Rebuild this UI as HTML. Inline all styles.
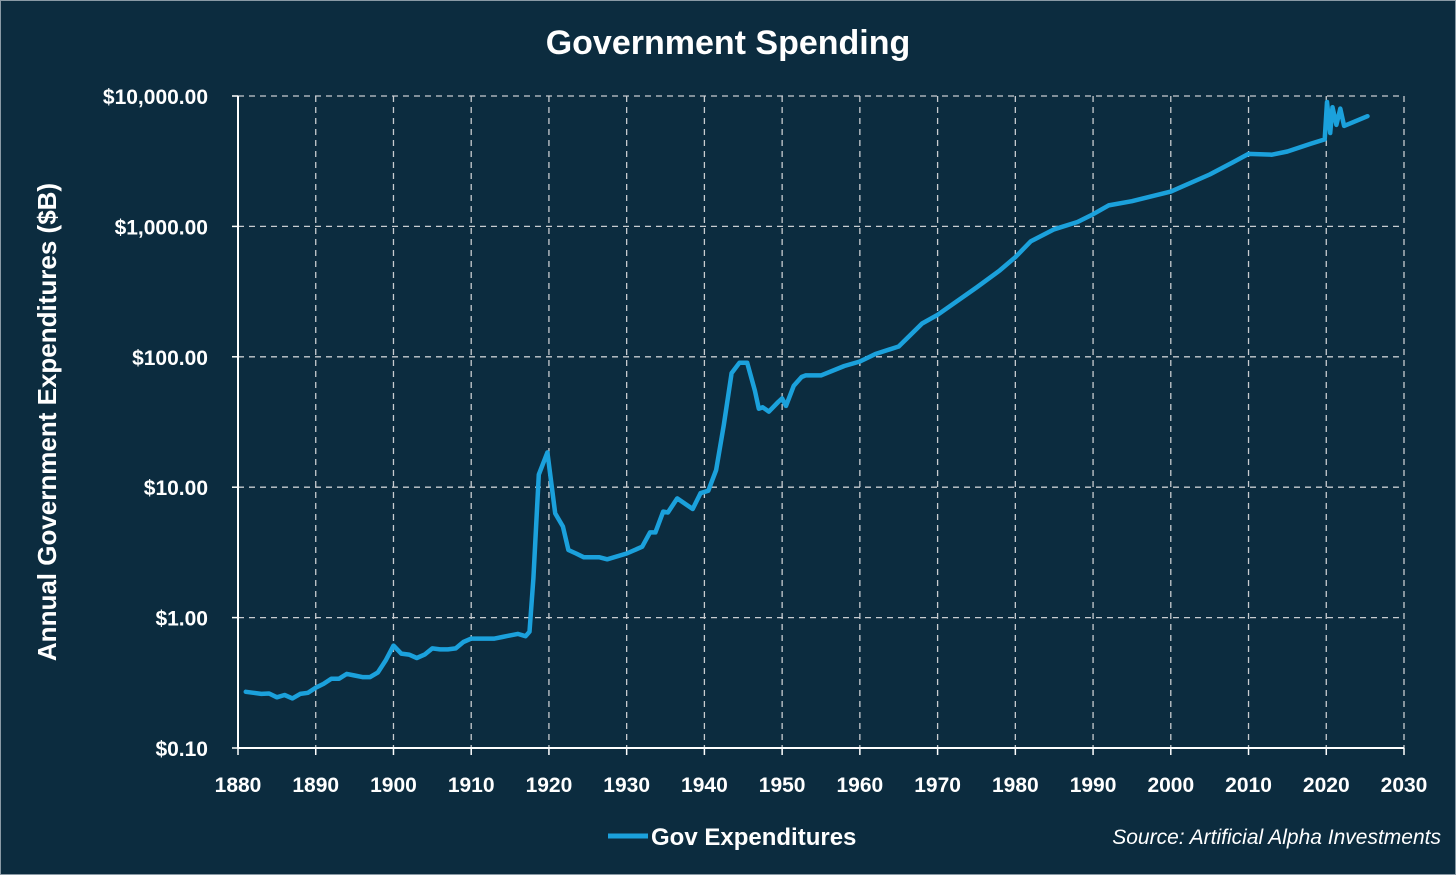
<!DOCTYPE html>
<html><head><meta charset="utf-8"><style>
html,body{margin:0;padding:0;background:#0c2c3f;}
svg{display:block;font-family:"Liberation Sans",sans-serif;}
</style></head><body>
<svg id="chart" width="1456" height="875" viewBox="0 0 1456 875">
<rect x="0" y="0" width="1456" height="875" fill="#0c2c3f" stroke="#8a9aa5" stroke-width="2"/>
<text x="728" y="54" text-anchor="middle" fill="#fff" font-size="34" font-weight="bold">Government Spending</text>
<text transform="translate(56,422) rotate(-90)" text-anchor="middle" fill="#fff" font-size="26" font-weight="bold">Annual Government Expenditures ($B)</text>
<g id="grid"></g><g id="axes"></g><g id="series"></g>
<line x1="608" y1="836" x2="648" y2="836" stroke="#1ba1dc" stroke-width="5"/>
<text x="651" y="845" fill="#fff" font-size="24" font-weight="bold">Gov Expenditures</text>
<text x="1441" y="844" text-anchor="end" fill="#fff" font-size="21" font-style="italic">Source: Artificial Alpha Investments</text>
</svg>
<script>
const years=[1881,1882,1883,1884,1885,1886,1887,1888,1889,1890,1891,1892,1893,1894,1895,1896,1897,1898,1899,1900,1901,1902,1903,1904,1905,1906,1907,1908,1909,1910,1911,1912,1913,1914,1915,1916,1917,1917.5,1918,1918.7,1919.8,1920.8,1921.8,1922.5,1923.5,1924.5,1926.5,1927.5,1930,1932,1933,1933.7,1934.7,1935.3,1936.5,1938.5,1939.5,1940.5,1941.5,1942.5,1943.5,1944.5,1945.5,1946.5,1947,1947.5,1948.3,1949.5,1950,1950.5,1951.5,1952.5,1953,1955,1958,1960,1962,1965,1968,1970,1975,1978,1980,1982,1985,1988,1990,1992,1995,2000,2005,2008,2010,2013,2015,2018,2019.8,2020.1,2020.5,2020.8,2021.3,2021.8,2022.3,2025.3];
const spending=[0.27,0.265,0.26,0.262,0.245,0.255,0.24,0.26,0.265,0.29,0.31,0.34,0.34,0.37,0.36,0.35,0.35,0.38,0.47,0.61,0.53,0.52,0.49,0.52,0.58,0.57,0.57,0.58,0.65,0.69,0.69,0.69,0.69,0.71,0.73,0.75,0.72,0.78,2.0,12.5,18.5,6.3,5.0,3.3,3.1,2.9,2.9,2.8,3.1,3.5,4.5,4.5,6.5,6.4,8.2,6.8,9.0,9.4,13.5,30,75,90,90,55,40,41,38,45,48,42,60,70,72,72,85,92,105,120,180,210,340,460,580,770,950,1080,1240,1450,1560,1850,2500,3100,3600,3550,3750,4300,4650,9000,5200,8200,6000,8000,5900,7000];
const xTicks=[1880,1890,1900,1910,1920,1930,1940,1950,1960,1970,1980,1990,2000,2010,2020,2030];
const yTicks=[0.1,1,10,100,1000,10000];
const yTickLabels=["$0.10","$1.00","$10.00","$100.00","$1,000.00","$10,000.00"];
const NS="http://www.w3.org/2000/svg";
const X0=238,X1=1404,Y0=748,Y1=96;
const xs=v=>X0+(v-1880)/(2030-1880)*(X1-X0);
const ys=v=>Y0-(Math.log10(v)+1)/5*(Y0-Y1);
function mk(tag,attrs,parent){const e=document.createElementNS(NS,tag);for(const k in attrs)e.setAttribute(k,attrs[k]);parent.appendChild(e);return e;}
const grid=document.getElementById('grid'),axes=document.getElementById('axes'),series=document.getElementById('series');
xTicks.forEach((t,i)=>{
  if(i>0){const l=mk('line',{x1:xs(t),x2:xs(t),y1:Y1,y2:Y0,stroke:'#c8ccd0','stroke-width':1.3,'stroke-dasharray':'6,5'},grid);
  
  }
  const tk=mk('line',{x1:xs(t),x2:xs(t),y1:Y0,y2:Y0+7,stroke:'#fff','stroke-width':1.5},axes);
  
  
  const tx=mk('text',{x:xs(t),y:792,'text-anchor':'middle',fill:'#fff','font-size':21,'font-weight':'bold'},axes);
  tx.textContent=t;
  
  
});
yTicks.forEach((t,i)=>{
  if(i>0){const l=mk('line',{x1:X0,x2:X1,y1:ys(t),y2:ys(t),stroke:'#c8ccd0','stroke-width':1.3,'stroke-dasharray':'6,5'},grid);
  
  }
  const tk=mk('line',{x1:X0-6,x2:X0,y1:ys(t),y2:ys(t),stroke:'#fff','stroke-width':1.5},axes);
  
  
  const tx=mk('text',{x:208,y:ys(t)+8,'text-anchor':'end',fill:'#fff','font-size':21,'font-weight':'bold'},axes);
  tx.textContent=yTickLabels[i];
  
  
});
const ya=mk('line',{x1:X0,x2:X0,y1:Y1,y2:Y0,stroke:'#fff','stroke-width':2},axes);


const xa=mk('line',{x1:X0,x2:X1,y1:Y0,y2:Y0,stroke:'#fff','stroke-width':2},axes);


const d=years.map((y,i)=>(i?'L':'M')+xs(y).toFixed(1)+','+ys(spending[i]).toFixed(1)).join(' ');
const p=mk('path',{d:d,fill:'none',stroke:'#1ba1dc','stroke-width':4.5,'stroke-linejoin':'round','stroke-linecap':'round'},series);


</script>
</body></html>
